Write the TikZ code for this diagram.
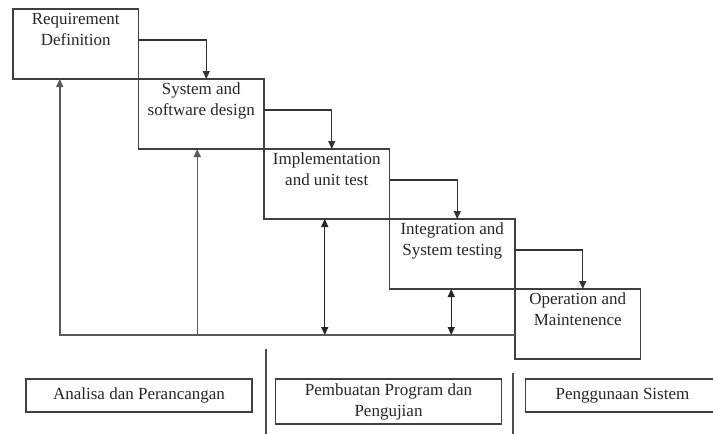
\documentclass[tikz,border=0pt]{standalone}
\usepackage{fontspec}
\setmainfont{Liberation Serif}
\usetikzlibrary{positioning,arrows.meta}

\begin{document}
\begin{tikzpicture}[
    x=1pt, y=-1pt,
    node distance=0pt,
    every node/.style={font=\fontsize{17}{21}\selectfont, align=center, text=black!85},
    stage/.style={rectangle, draw=black!75, line width=1.2pt, outer sep=0pt,
                  minimum width=125.5pt, minimum height=70pt, inner sep=0pt},
    stagetext/.style={anchor=north, inner sep=4pt},
    phase/.style={rectangle, draw=black!75, line width=1.2pt,
                  minimum width=226pt, minimum height=33pt, inner sep=2pt},
    arrow/.style={-{Triangle[length=8pt,width=7pt]}, line width=1.2pt, draw=black!80},
    back/.style={-{Triangle[length=8pt,width=7pt]}, line width=1.5pt, draw=black!65},
    both/.style={{Triangle[length=8pt,width=7pt]}-{Triangle[length=8pt,width=7pt]}, line width=1pt, draw=black!85},
    sep/.style={line width=1.2pt, draw=black!70}
]
\useasboundingbox (0,0) rectangle (713,434);

% waterfall stages
\node[stage, anchor=north west] (b1) at (13,9) {};
\node[stage, below right=0pt and 0pt of b1] (b2) {};
\node[stage, below right=0pt and 0pt of b2] (b3) {};
\node[stage, below right=0pt and 0pt of b3] (b4) {};
\node[stage, below right=0pt and 0pt of b4] (b5) {};

\node[stagetext] (t1) at (b1.north) {Requirement\\Definition};
\node[stagetext] (t2) at (b2.north) {System and\\software design};
\node[stagetext] (t3) at (b3.north) {Implementation\\and unit test};
\node[stagetext] (t4) at (b4.north) {Integration and\\System testing};
\node[stagetext] (t5) at (b5.north) {Operation and\\Maintenence};

\draw[arrow] ([yshift=4pt]b1.east) -| ([xshift=5pt]b2.north);
\draw[arrow] ([yshift=4pt]b2.east) -| ([xshift=5pt]b3.north);
\draw[arrow] ([yshift=4pt]b3.east) -| ([xshift=5pt]b4.north);
\draw[arrow] ([yshift=4pt]b4.east) -| ([xshift=5pt]b5.north);

% feedback lines
\coordinate (base) at ([yshift=-11pt]b5.west);
\draw[back] (base) -| ([xshift=-16pt]b1.south);
\draw[back] ([xshift=-4pt]b2.south |- base) -- ([xshift=-4pt]b2.south);
\draw[both] ([xshift=-2pt]b3.south) -- ([xshift=-2pt]b3.south |- base);
\draw[both] ([xshift=-1pt]b4.south) -- ([xshift=-1pt]b4.south |- base);

% phases
\draw[sep] (266,349) -- (266,434);
\draw[sep] (513,373) -- (513,434);

\node[phase] (p1) at (139,395.5) {Analisa dan Perancangan};
\node[phase, minimum height=45pt] (p2) at (388.5,401.5) {Pembuatan Program dan\\Pengujian};
\node[phase, minimum width=194pt] (p3) at (622.5,395.5) {Penggunaan Sistem};

\end{tikzpicture}
\end{document}
